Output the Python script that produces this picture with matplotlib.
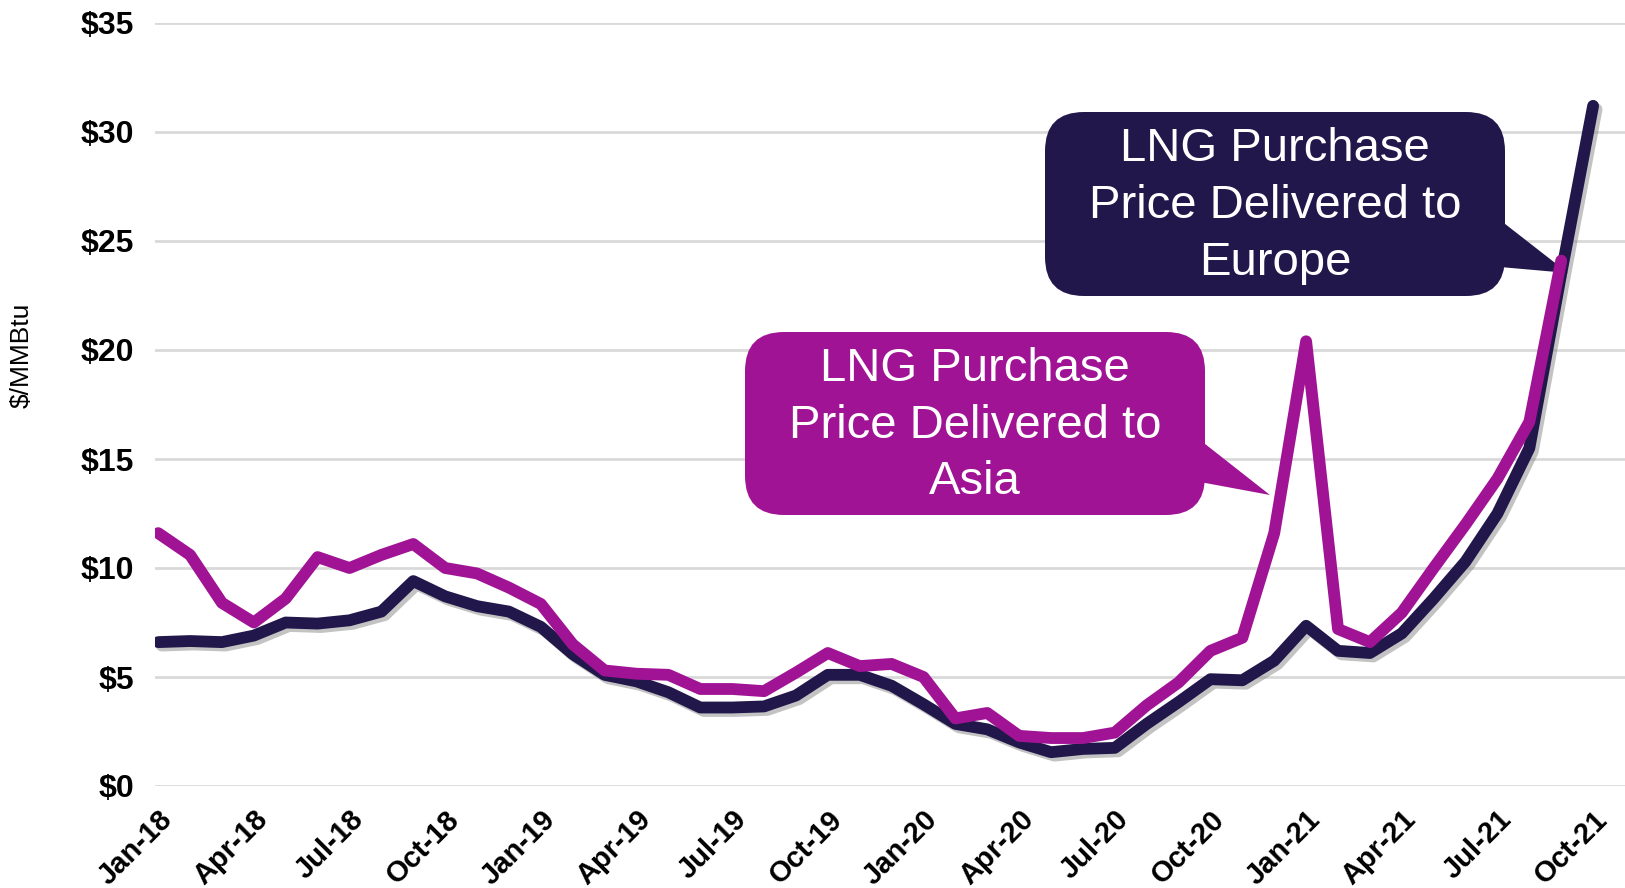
import matplotlib
matplotlib.use("Agg")
import matplotlib.pyplot as plt
import matplotlib.patheffects as pe
from matplotlib.patches import FancyBboxPatch, Polygon

plt.rcParams['font.family'] = ['Liberation Sans', 'DejaVu Sans']

# monthly, Jan-18 .. Oct-21
months = ['Jan', 'Feb', 'Mar', 'Apr', 'May', 'Jun', 'Jul', 'Aug', 'Sep', 'Oct', 'Nov', 'Dec']
dates = [f"{months[i % 12]}-{18 + i // 12}" for i in range(46)]

europe = [6.6, 6.65, 6.6, 6.9, 7.5, 7.45, 7.6, 8.0, 9.4, 8.7, 8.25, 8.0,
          7.3, 6.05, 5.1, 4.8, 4.3, 3.6, 3.6, 3.65, 4.15, 5.1, 5.1, 4.6,
          3.75, 2.85, 2.6, 2.0, 1.55, 1.7, 1.75, 2.85, 3.85, 4.9, 4.85, 5.75,
          7.35, 6.2, 6.1, 7.0, 8.6, 10.3, 12.5, 15.5, 23.5, 31.2]
asia = [11.6, 10.6, 8.4, 7.5, 8.6, 10.5, 10.0, 10.6, 11.1, 10.0, 9.75, 9.1,
        8.35, 6.5, 5.3, 5.15, 5.1, 4.45, 4.45, 4.35, 5.2, 6.1, 5.5, 5.6,
        5.0, 3.1, 3.35, 2.3, 2.2, 2.2, 2.45, 3.7, 4.75, 6.2, 6.8, 11.6,
        20.4, 7.2, 6.6, 7.95, 10.0, 12.0, 14.1, 16.7, 24.1]

tick_idx = list(range(0, 46, 3))
y_ticks = [0, 5, 10, 15, 20, 25, 30, 35]

dark = '#21174A'
purple = '#A11395'

W, H = 1625, 888
fig = plt.figure(figsize=(W / 100, H / 100), dpi=100)
ax = fig.add_axes([155 / W, 1 - 786 / H, 1 - 155 / W, (786 - 23) / H])

shadow = [pe.SimpleLineShadow(offset=(2.5, -2.5), shadow_color='#888888', alpha=0.5), pe.Normal()]
ax.plot(range(len(europe)), europe, color=dark, lw=8.5, solid_capstyle='round',
        solid_joinstyle='round', path_effects=shadow, zorder=4)
ax.plot(range(len(asia)), asia, color=purple, lw=8.5, solid_capstyle='round',
        solid_joinstyle='round', zorder=5)

ax.set_xlim(-0.1, 46.0)
ax.set_ylim(0, 35)
ax.set_yticks(y_ticks)
ax.set_yticklabels([f"${v}" for v in y_ticks], fontsize=23, fontweight='bold')
ax.set_xticks(tick_idx)
ax.set_xticklabels([dates[i] for i in tick_idx], fontsize=21, fontweight='bold',
                   rotation=45, ha='right', rotation_mode='anchor')
ax.tick_params(axis='y', length=0, pad=15)
ax.tick_params(axis='x', length=0, pad=14)
for s in ax.spines.values():
    s.set_visible(False)
ax.grid(axis='y', color='#d9d9d9', lw=2)
ax.set_axisbelow(True)

fig.text(22 / W, 1 - 355 / H, '$/MMBtu', rotation=90, fontsize=19, ha='center', va='center')


def fx(px):
    return px / W


def fy(py):
    return 1 - py / H


def callout(x0, y0, x1, y1, base, tip, color, text):
    box = FancyBboxPatch((fx(x0), fy(y1)), fx(x1 - x0), (y1 - y0) / H,
                         boxstyle='round,pad=0,rounding_size=0.024',
                         mutation_aspect=W / H,
                         transform=fig.transFigure, facecolor=color,
                         edgecolor='none', clip_on=False, zorder=3)
    ax.add_patch(box)
    pts = [(fx(base[0][0]), fy(base[0][1])), (fx(tip[0]), fy(tip[1])),
           (fx(base[1][0]), fy(base[1][1]))]
    ax.add_patch(Polygon(pts, closed=True, transform=fig.transFigure, facecolor=color,
                         edgecolor='none', clip_on=False, zorder=3))
    fig.text(fx((x0 + x1) / 2), fy((y0 + y1) / 2 + 2), text, color='white', fontsize=34,
             ha='center', va='center', linespacing=1.38, zorder=6)


callout(1045, 112, 1505, 296, [(1500, 220), (1500, 267)], (1568, 273), dark,
        'LNG Purchase\nPrice Delivered to\nEurope')
callout(745, 332, 1205, 515, [(1200, 440), (1200, 482)], (1270, 495), purple,
        'LNG Purchase\nPrice Delivered to\nAsia')

fig.savefig('out.png', dpi=100)
